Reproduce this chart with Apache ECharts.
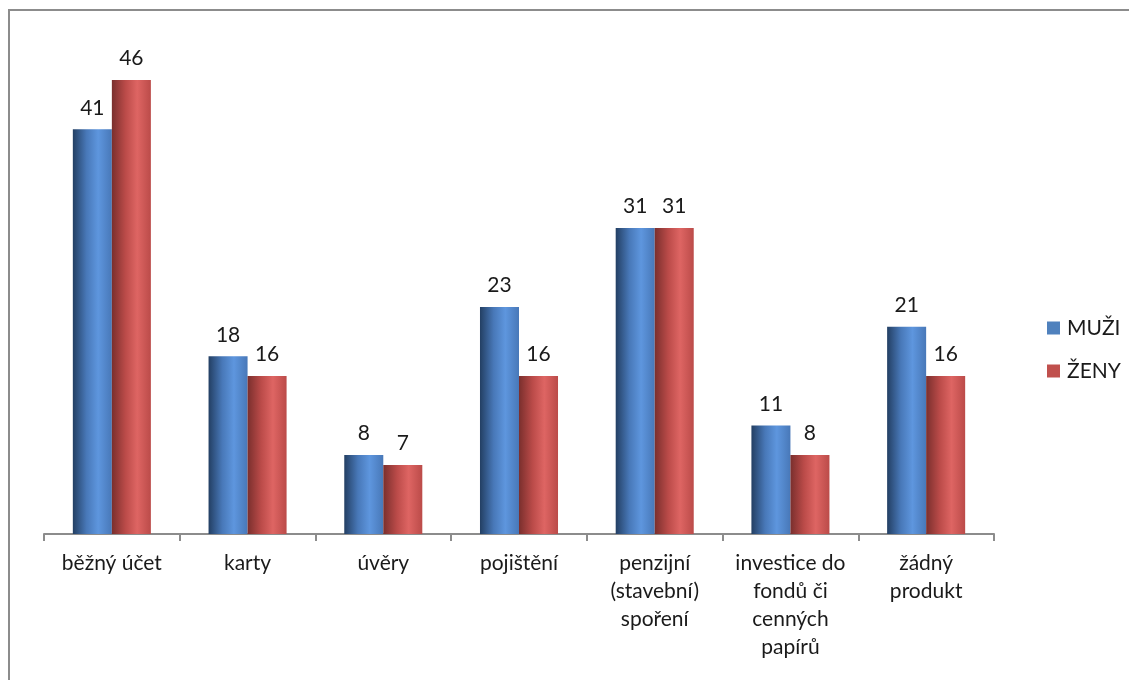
<!DOCTYPE html>
<html>
<head>
<meta charset="utf-8">
<script src="https://cdn.jsdelivr.net/npm/echarts@6/dist/echarts.min.js"></script>
<style>
  html, body { margin: 0; padding: 0; background: #fff; }
  #chart { width: 1129px; height: 680px; }
</style>
</head>
<body>
<div id="chart"></div>
<script>
// Products used, by gender (percent)
const categories = [
  'běžný účet',
  'karty',
  'úvěry',
  'pojištění',
  'penzijní\n(stavební)\nspoření',
  'investice do\nfondů či\ncenných\npapírů',
  'žádný\nprodukt'
];
const seriesNames = ['MUŽI', 'ŽENY'];
const muzi = [41, 18, 8, 23, 31, 11, 21];
const zeny = [46, 16, 7, 16, 31, 8, 16];

const FONT = 'Lato, "Open Sans", sans-serif';
const TEXT = '#1a1a1a';

// horizontal shading that gives each bar a rounded, cylinder-like look
function cylinder(dark, mid, light) {
  return new echarts.graphic.LinearGradient(0, 0, 1, 0, [
    { offset: 0, color: dark },
    { offset: 0.35, color: mid },
    { offset: 0.65, color: light },
    { offset: 1, color: mid }
  ]);
}

const blueFill = cylinder('#233f63', '#4878b8', '#5e96de');
const redFill = cylinder('#7a2f2d', '#bb4b49', '#de6563');

const labelStyle = {
  show: true,
  position: 'top',
  distance: 11,
  color: TEXT,
  fontFamily: FONT,
  fontSize: 21
};

const chart = echarts.init(document.getElementById('chart'), null, { renderer: 'canvas' });
chart.setOption({
  backgroundColor: '#ffffff',
  animation: false,
  graphic: [{
    type: 'rect',
    shape: { x: 9, y: 10, width: 1300, height: 900 },
    style: { fill: 'none', stroke: '#8c8c8c', lineWidth: 2 },
    silent: true,
    z: -1
  }],
  legend: {
    orient: 'vertical',
    left: 1042,
    top: 312,
    itemWidth: 13,
    itemHeight: 13,
    itemGap: 21,
    icon: 'rect',
    textStyle: { fontFamily: FONT, fontSize: 21, lineHeight: 22, color: TEXT, padding: [0, 0, 0, 2] },
    data: [
      { name: seriesNames[0], itemStyle: { color: '#4f81bd' } },
      { name: seriesNames[1], itemStyle: { color: '#c0504d' } }
    ]
  },
  grid: { left: 44, right: 135, top: 40.5, bottom: 146 },
  xAxis: {
    type: 'category',
    data: categories,
    axisLine: { show: true, lineStyle: { color: '#8c8c8c', width: 2 } },
    axisTick: { show: true, length: 7, alignWithLabel: false, lineStyle: { color: '#8c8c8c', width: 2 } },
    axisLabel: {
      interval: 0,
      margin: 15,
      color: TEXT,
      fontFamily: FONT,
      fontSize: 21,
      lineHeight: 28
    }
  },
  yAxis: {
    type: 'value',
    min: 0,
    max: 50,
    show: false,
    splitLine: { show: false }
  },
  series: [
    {
      name: seriesNames[0],
      type: 'bar',
      data: muzi,
      barGap: '0%',
      barCategoryGap: '42.5%',
      itemStyle: { color: blueFill },
      label: labelStyle
    },
    {
      name: seriesNames[1],
      type: 'bar',
      data: zeny,
      itemStyle: { color: redFill },
      label: labelStyle
    }
  ]
});
</script>
</body>
</html>
